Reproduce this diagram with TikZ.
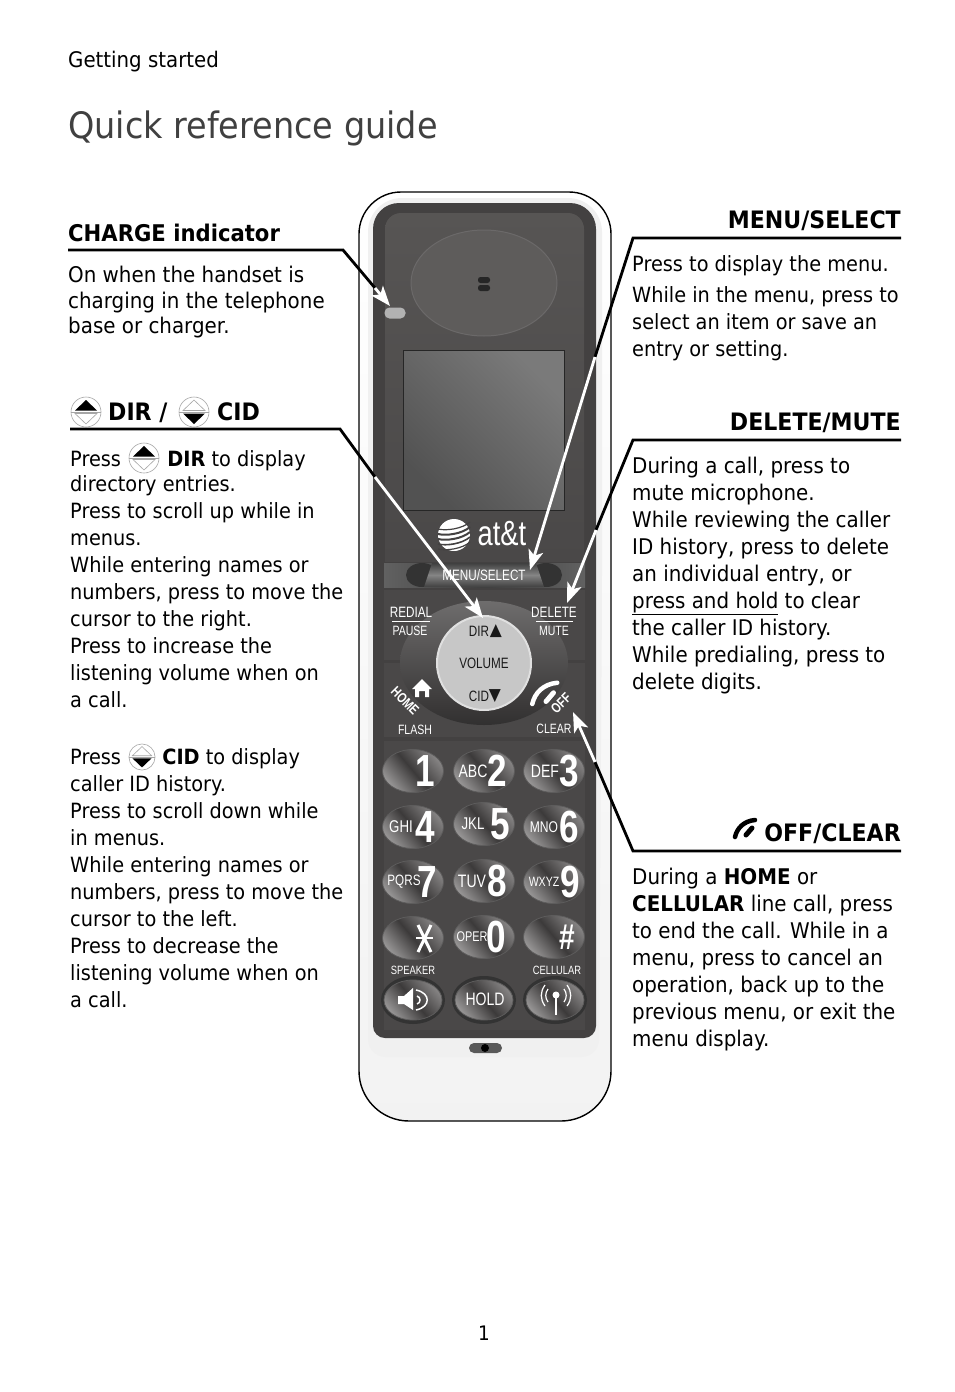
\documentclass[tikz,border=0pt]{standalone}
\usepackage{fontspec}
\usetikzlibrary{arrows.meta,shapes.geometric}
\setmainfont[FakeStretch=0.92]{DejaVu Sans}
\newfontfamily\phonefont[FakeStretch=0.78]{Liberation Sans}
\definecolor{shell}{HTML}{F0F0F0}
\definecolor{face}{HTML}{434141}
\definecolor{panel}{HTML}{4A4848}
\definecolor{panelhi}{HTML}{575554}
\definecolor{bowl}{HTML}{3A3838}
\definecolor{keyhi}{HTML}{858383}
\definecolor{keylo}{HTML}{3C3A3A}
\tikzset{
    body/.style={font=\fontsize{21.6}{27}\selectfont,align=left,anchor=north west,inner sep=0pt},
    tightbody/.style={body,font=\fontsize{21}{27}\selectfont},
    heading/.style={font=\fontsize{24}{27}\selectfont\bfseries,inner sep=0pt},
    leader/.style={line width=2.8pt,black},
    pointer/.style={line width=2.8pt,white,-{Stealth[length=20pt,width=15pt,inset=5pt]}},
    caption/.style={font=\phonefont\fontsize{13.5}{14}\selectfont,white,inner sep=0pt},
    biglabel/.style={caption,font=\phonefont\fontsize{15}{15}\selectfont},
    dialtext/.style={font=\phonefont\fontsize{18}{18}\selectfont,white,inner sep=0pt},
    dialdigit/.style={font=\phonefont\fontsize{45}{45}\selectfont\bfseries,white,inner sep=0pt},
    keycap/.style={ellipse,minimum width=61pt,minimum height=43pt,inner sep=0pt,draw=keyhi!70!black,line width=.8pt,
	left color=keyhi,right color=keyhi!85!white,middle color=keylo,shading angle=-50},
    scrollup/.pic={
	\draw[gray!70,line width=.6pt,fill=white] (0,0) circle (15pt);
	\draw[gray!70,line width=.6pt] (-15,0) -- (15,0);
	\fill[black] (0,-12) -- (11,-1.5) -- (-11,-1.5) -- cycle;
	\draw[gray!70,line width=.6pt] (0,12) -- (11,1.5) -- (-11,1.5) -- cycle;
    },
    scrolldown/.pic={
	\draw[gray!70,line width=.6pt,fill=white] (0,0) circle (15pt);
	\draw[gray!70,line width=.6pt] (-15,0) -- (15,0);
	\draw[gray!70,line width=.6pt] (0,-12) -- (11,-1.5) -- (-11,-1.5) -- cycle;
	\fill[black] (0,12) -- (11,1.5) -- (-11,1.5) -- cycle;
    },
    handset/.pic={
	\draw[line width=4.5pt,line cap=round,pic actions] (-11,8) .. controls (-9,-1) and (-2,-8) .. (9,-9);
	\draw[line width=5pt,line cap=round,pic actions] (0,6) -- (6,-1);
    },
}
\begin{document}
\begin{tikzpicture}[x=1pt,y=-1pt]
    \useasboundingbox (0,0) rectangle (954,1392);
    \fill[white] (0,0) rectangle (954,1392);
    % page texts
    \node[anchor=base west,inner sep=0pt,font=\fontsize{21.5}{24}\selectfont] (chapter) at (68,67) {Getting started};
    \node[anchor=base west,inner sep=0pt,font=\fontsize{36.4}{40}\selectfont,black!75] (title) at (68,138) {Quick reference guide};
    \node[anchor=base,inner sep=0pt,font=\fontsize{20}{24}\selectfont] (folio) at (484,1340) {1};

    % handset
    \begin{scope}
	\draw[line width=1.4pt,top color=white,bottom color=black!5] [rounded corners=42pt] (359,600) -- (359,192) -- (611,192) -- (611,600)
	    [rounded corners=50pt] -- (611,1121) -- (359,1121) -- cycle;
	\fill[shell] [rounded corners=34pt] (368,600) -- (368,198) -- (602,198) -- (602,600)
	    [rounded corners=18pt] -- (599,1057) -- (368,1057) -- cycle;
	\fill[face] [rounded corners=26pt] (373,600) -- (373,203) -- (596,203) -- (596,600)
	    [rounded corners=12pt] -- (596,1038) -- (373,1038) -- cycle;
	\shade[top color=panelhi,bottom color=panel] [rounded corners=16pt] (385,420) -- (385,213) -- (584,213) -- (584,420) [sharp corners] -- (584,562) -- (385,562) -- cycle;
	\draw[draw=panelhi!88!white,fill=panelhi!96!white,line width=1pt] (484,283) ellipse [x radius=73pt,y radius=53pt];
	\fill[black!85,rounded corners=2.5pt] (478,277) rectangle (490,283);
	\fill[black!85,rounded corners=2.5pt] (478,285) rectangle (490,291);
	\node[fill=black!30,rounded corners=5pt,minimum width=21pt,minimum height=11pt,inner sep=0pt] (led) at (395,313) {};
	\shade[draw=black!85,line width=1pt,left color=black!52,right color=black!68,shading angle=-45] (403.5,350.5) rectangle (564.5,510);
	% logo
	\fill[white] (454,535) circle (16pt);
	\foreach \sy/\sw in {-9/1.2,-4/2,1/2,6/1.6,11/1.2} {
	    \draw[face,line width=\sw pt] (438,535+\sy+3) .. controls (446,535+\sy+5) and (462,535+\sy+3) .. (470,535+\sy-4);
	}
	\node[font=\fontsize{35}{35}\selectfont\phonefont,white,inner sep=0pt] (brand) at (502,534) {at\&t};

	% menu row
	\shade[left color=black!62,right color=black!62,middle color=black!75] (384,563) rectangle (585,587);
	\fill[black!80] (422,575) ellipse [x radius=16pt,y radius=12pt];
	\fill[black!80] (546,575) ellipse [x radius=16pt,y radius=12pt];
	\shade[top color=black!75,bottom color=black!75,middle color=black!48] (432,563) -- (536,563) -- (544,587) -- (424,587) -- cycle;
	\node[biglabel] (menulabel) at (484,575.5) {MENU/SELECT};

	% navigation
	\fill[panel] (384,590) rectangle (585,660);
	\fill[panel] (384,663) rectangle (585,737);
	\shade[top color=panel!80!white,bottom color=bowl!85!black] (484,663) ellipse [x radius=84pt,y radius=62pt];
	\draw[draw=black!12,fill=black!22,line width=2pt] (484,663) circle (47pt);
	\node[biglabel,black!90] (dirlabel) at (479,631) {DIR};
	\node[font=\fontsize{17}{17}\selectfont,inner sep=0pt,black!90] (dirmark) at (496,631) {▲};
	\node[biglabel,black!90] (volumelabel) at (484,663) {VOLUME};
	\node[biglabel,black!90] (cidlabel) at (479,696) {CID};
	\node[font=\fontsize{17}{17}\selectfont,inner sep=0pt,black!90] (cidmark) at (495,696) {▼};
	\node[biglabel] (redial) at (411,612) {REDIAL};
	\draw[white,line width=.8pt] (392,621) -- (430,621);
	\node[caption] (pause) at (410,631) {PAUSE};
	\node[biglabel] (deletelabel) at (554,612) {DELETE};
	\draw[white,line width=.8pt] (536,621) -- (573,621);
	\node[caption] (mutelabel) at (554,631) {MUTE};
	\node[caption,font=\phonefont\fontsize{14}{14}\selectfont\bfseries,rotate=-45] (homelabel) at (405,701) {HOME};
	\node[caption,rotate=45,font=\phonefont\fontsize{14}{14}\selectfont\bfseries] (offlabel) at (561,703) {OFF};
	\node[caption] (flash) at (415,730) {FLASH};
	\node[caption] (clearlabel) at (554,729) {CLEAR};
	% house
	\fill[white] (422,679) -- (432,689) -- (429,689) -- (429,697) -- (425,697) -- (425,691) -- (419,691) -- (419,697) -- (415,697) -- (415,689) -- (412,689) -- cycle;
	\path[draw=white,fill=white] (546,694) pic[scale=1.25] {handset};

	% keypad
	\fill[panel] (384,741) rectangle (585,1030);
	\foreach \kn/\kx/\ky/\kt/\tx/\ts/\kd/\dx in {one/413/771//0/18/1/425,two/484/771/ABC/473/18/2/497,three/554/771/DEF/545/18/3/569,
	    four/413/827/GHI/401/17/4/425,five/484/824/JKL/473/17/5/500,six/554/827/MNO/544/15.5/6/569,
	    seven/413/882/PQRS/404/15/7/427,eight/484/881/TUV/472/18/8/497,nine/554/882/WXYZ/544/13.5/9/570,
	    oper/484/937/OPER/472/14/0/496} {
	    \node[keycap] (key\kn) at (\kx,\ky) {};
	    \node[dialtext,font=\phonefont\fontsize{\ts}{18}\selectfont] (text\kn) at (\tx,\ky) {\kt};
	    \node[dialdigit] (digit\kn) at (\dx,\ky) {\kd};
	}
	\node[keycap] (keystar) at (413,938) {};
	\draw[white,line width=3pt] (418,925) -- (431,952) (431,925) -- (418,952);
	\draw[white,line width=1.2pt] (416,938) -- (433,938);
	\node[keycap] (keyhash) at (554,937) {};
	\node[dialdigit,font=\phonefont\fontsize{36}{36}\selectfont\bfseries] (digithash) at (567,937) {\#};
	\node[caption,font=\phonefont\fontsize{12}{14}\selectfont] (speaker) at (413,970) {SPEAKER};
	\node[caption,font=\phonefont\fontsize{12}{14}\selectfont] (cellular) at (557,970) {CELLULAR};
	\foreach \kn/\kx in {speak/413,hold/484,cell/555} {
	    \fill[black!80] (\kx,1000) ellipse [x radius=32pt,y radius=24pt];
	    \node[keycap,minimum width=58pt,minimum height=40pt] (key\kn) at (\kx,1000) {};
	}
	\node[dialtext] (holdlabel) at (485,999) {HOLD};
	% speaker and antenna keys
	\fill[white] (398,996) -- (404,996) -- (413,988) -- (413,1010) -- (404,1004) -- (398,1004) -- cycle;
	\draw[white,line width=1.5pt] (416,990) .. controls (431,993) and (431,1007) .. (416,1010);
	\draw[white,line width=1.5pt] (417,996) .. controls (421,997) and (421,1003) .. (417,1004);
	\draw[white,line width=2pt] (556,996) -- (556,1015);
	\fill[white] (556,995) circle (3.5pt);
	\draw[white,line width=1.2pt] (548,989) .. controls (545,993) and (545,998) .. (548,1002);
	\draw[white,line width=1.2pt] (564,989) .. controls (567,993) and (567,998) .. (564,1002);
	\draw[white,line width=1.2pt] (545,985) .. controls (540,992) and (540,999) .. (545,1006);
	\draw[white,line width=1.2pt] (567,985) .. controls (572,992) and (572,999) .. (567,1006);
	% lanyard slot
	\fill[black!65,rounded corners=5pt] (469,1043) rectangle (502,1053);
	\fill[black] (485,1048) circle (4pt);
    \end{scope}

    % left column
    \node[heading,font=\fontsize{23}{27}\selectfont\bfseries,anchor=base west] (chargehead) at (68,241) {CHARGE indicator};
    \node[body,font=\fontsize{21.6}{25.5}\selectfont] (chargetext) at (68,266) {On when the handset is\\charging in the telephone\\base or charger.};
    \path (86,412) pic {scrollup};
    \node[heading,anchor=base west] (dirhead) at (108,420) {DIR /};
    \path (194,412) pic {scrolldown};
    \node[heading,anchor=base west] (cidhead) at (217,420) {CID};
    \path (144,458) pic {scrollup};
    \path (142,757) pic[scale=.87] {scrolldown};
    \node[tightbody] (dirtext) at (70,450) {Press \hspace{34pt} \textbf{DIR} to display\\[-2pt]directory entries.\\Press to scroll up while in\\menus.\\While entering names or\\numbers, press to move the\\cursor to the right.\\Press to increase the\\listening volume when on\\a call.};
    \node[tightbody] (cidtext) at (70,748) {Press \hspace{29pt} \textbf{CID} to display\\caller ID history.\\Press to scroll down while\\in menus.\\While entering names or\\numbers, press to move the\\cursor to the left.\\Press to decrease the\\listening volume when on\\a call.};

    % right column
    \node[heading,anchor=base east] (menuhead) at (901,228) {MENU/SELECT};
    \node[tightbody] (menutext) at (632,255) {Press to display the menu.\\[4pt]While in the menu, press to\\select an item or save an\\entry or setting.};
    \node[heading,anchor=base east] (deletehead) at (901,430) {DELETE/MUTE};
    \node[body] (deletetext) at (632,457) {During a call, press to\\mute microphone.\\While reviewing the caller\\ID history, press to delete\\an individual entry, or\\\underline{press and hold} to clear\\the caller ID history.\\While predialing, press to\\delete digits.};
    \node[heading,anchor=base east] (offhead) at (901,841) {OFF/CLEAR};
    \path[draw=black,fill=black] (746,829) pic {handset};
    \node[body] (offtext) at (632,868) {During a \textbf{HOME} or\\\textbf{CELLULAR} line call, press\\to end the call. While in a\\menu, press to cancel an\\operation, back up to the\\previous menu, or exit the\\menu display.};

    % connectors
    \coordinate (chargestart) at (68,250);
    \coordinate (chargebend) at (343,250);
    \coordinate (chargeswap) at (375,288);
    \coordinate (chargetip) at (390,306);
    \coordinate (dirstart) at (70,429);
    \coordinate (dirbend) at (340,429);
    \coordinate (dirswap) at (375,477);
    \coordinate (dirtip) at (483,618);
    \coordinate (menustart) at (901,238);
    \coordinate (menubend) at (633,238);
    \coordinate (menuswap) at (595,357);
    \coordinate (menutip) at (530,570);
    \coordinate (deletestart) at (901,440);
    \coordinate (deletebend) at (633,440);
    \coordinate (deleteswap) at (596,530);
    \coordinate (deletetip) at (567,603);
    \coordinate (offstart) at (901,851);
    \coordinate (offbend) at (633,851);
    \coordinate (offswap) at (595,762);
    \coordinate (offtip) at (573,712);
    \foreach \cn in {charge,dir,menu,delete,off} {
	\draw[leader,line join=miter] (\cn start) -- (\cn bend) -- (\cn swap);
	\draw[pointer] (\cn swap) -- (\cn tip);
    }
\end{tikzpicture}
\end{document}
